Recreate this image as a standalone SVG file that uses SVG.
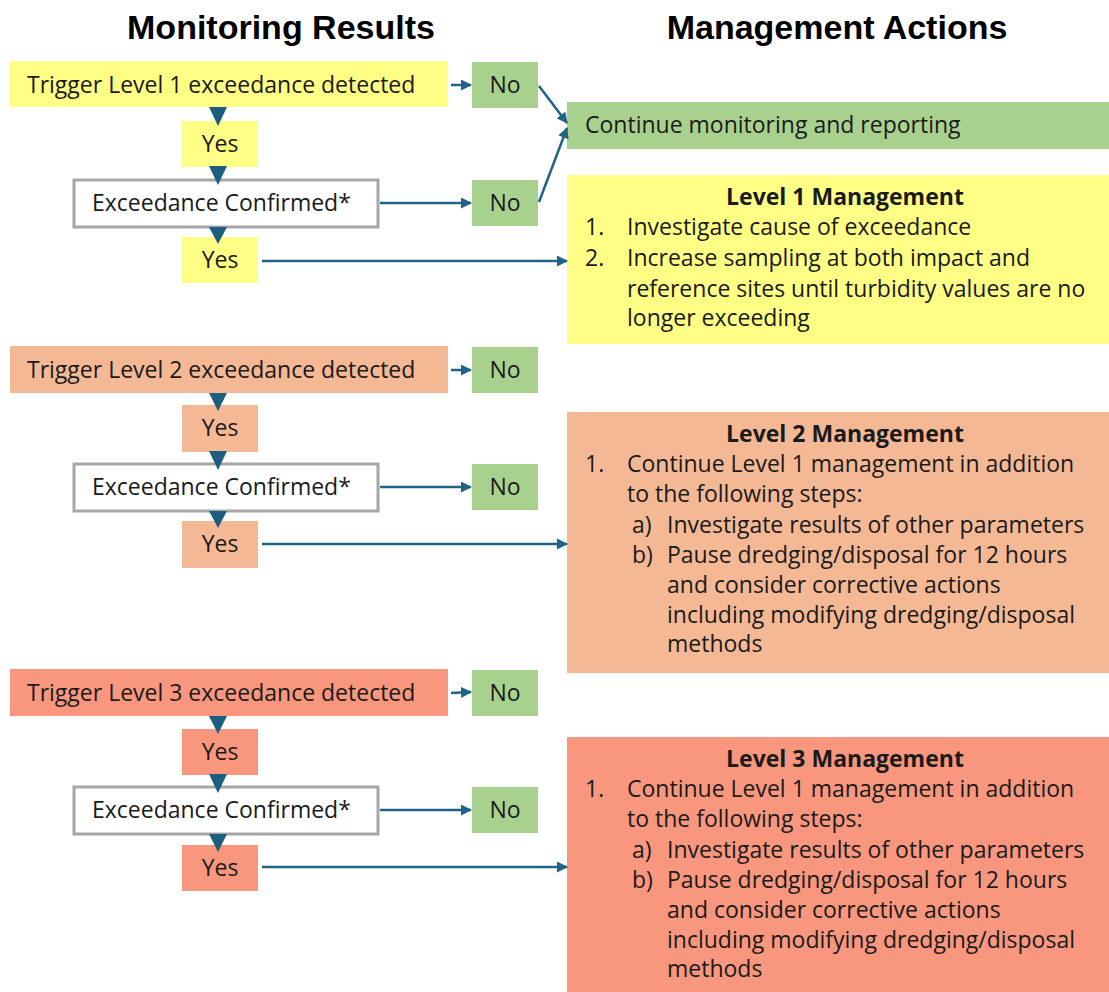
<svg xmlns="http://www.w3.org/2000/svg" width="1109" height="992" viewBox="0 0 1109 992">
<defs>
<marker id="ah" markerWidth="11" markerHeight="11" refX="10" refY="5.5" orient="auto" markerUnits="userSpaceOnUse">
<path d="M0,0 L11,5.5 L0,11 Z" fill="#1F6487"/>
</marker>
<style>
.t{font-family:"Open Sans","Liberation Sans",sans-serif;font-size:23px;fill:#1a1a1a}
.c{text-anchor:middle}
.b{font-weight:bold}
.h{font-family:"Liberation Sans",Arial,sans-serif;font-size:34px;font-weight:bold;fill:#000;text-anchor:middle}
.y{fill:#FFFF85}
.g{fill:#A9D18E}
.o{fill:#F4B894}
.r{fill:#F8977D}
.w{fill:#fff;stroke:#A6A6A6;stroke-width:3}
.ln{stroke:#1F6487;stroke-width:2.5;fill:none;marker-end:url(#ah)}
.tri{fill:#1B5E7E}
</style>
</defs>
<rect width="1109" height="992" fill="#fff"/>

<g id="titles">
<text class="h" x="281" y="39">Monitoring Results</text>
<text class="h" x="837" y="39">Management Actions</text>
</g>

<!-- Level 1 -->
<g id="trigger1"><rect class="y" x="10" y="61" width="438" height="46"/><text class="t" x="27" y="93">Trigger Level 1 exceedance detected</text></g>
<g id="no1a"><rect class="g" x="472" y="62" width="66" height="46"/><text class="t c" x="505" y="93">No</text></g>
<g id="yes1a"><rect class="y" x="182" y="121" width="76" height="46"/><text class="t c" x="220" y="152">Yes</text></g>
<g id="conf1"><rect class="w" x="74" y="180" width="304" height="47"/><text class="t" x="92" y="211">Exceedance Confirmed*</text></g>
<g id="no1b"><rect class="g" x="472" y="180" width="66" height="46"/><text class="t c" x="505" y="211">No</text></g>
<g id="yes1b"><rect class="y" x="182" y="237" width="76" height="46"/><text class="t c" x="220" y="268">Yes</text></g>

<!-- Level 2 -->
<g id="trigger2"><rect class="o" x="10" y="346" width="438" height="47"/><text class="t" x="27" y="378">Trigger Level 2 exceedance detected</text></g>
<g id="no2a"><rect class="g" x="472" y="347" width="66" height="46"/><text class="t c" x="505" y="378">No</text></g>
<g id="yes2a"><rect class="o" x="182" y="405" width="76" height="47"/><text class="t c" x="220" y="436">Yes</text></g>
<g id="conf2"><rect class="w" x="74" y="464" width="304" height="47"/><text class="t" x="92" y="495">Exceedance Confirmed*</text></g>
<g id="no2b"><rect class="g" x="472" y="464" width="66" height="46"/><text class="t c" x="505" y="495">No</text></g>
<g id="yes2b"><rect class="o" x="182" y="521" width="76" height="47"/><text class="t c" x="220" y="552">Yes</text></g>

<!-- Level 3 -->
<g id="trigger3"><rect class="r" x="10" y="669" width="438" height="47"/><text class="t" x="27" y="701">Trigger Level 3 exceedance detected</text></g>
<g id="no3a"><rect class="g" x="472" y="670" width="66" height="46"/><text class="t c" x="505" y="701">No</text></g>
<g id="yes3a"><rect class="r" x="182" y="729" width="76" height="46"/><text class="t c" x="220" y="760">Yes</text></g>
<g id="conf3"><rect class="w" x="74" y="787" width="304" height="47"/><text class="t" x="92" y="818">Exceedance Confirmed*</text></g>
<g id="no3b"><rect class="g" x="472" y="787" width="66" height="46"/><text class="t c" x="505" y="818">No</text></g>
<g id="yes3b"><rect class="r" x="182" y="845" width="76" height="46"/><text class="t c" x="220" y="876">Yes</text></g>

<!-- Management actions -->
<g id="continue"><rect class="g" x="567" y="102" width="542" height="47"/><text class="t" x="585" y="133">Continue monitoring and reporting</text></g>

<g id="mgmt1"><rect class="y" x="567" y="175" width="542" height="169"/>
<text class="t b c" x="845" y="205">Level 1 Management</text>
<text class="t" x="585" y="235">1.</text><text class="t" x="627" y="235">Investigate cause of exceedance</text>
<text class="t" x="585" y="266">2.</text><text class="t" x="627" y="266">Increase sampling at both impact and</text>
<text class="t" x="627" y="297">reference sites until turbidity values are no</text>
<text class="t" x="627" y="326">longer exceeding</text>
</g>

<g id="mgmt2"><rect class="o" x="567" y="412" width="542" height="261"/>
<text class="t b c" x="845" y="442">Level 2 Management</text>
<text class="t" x="585" y="472">1.</text><text class="t" x="627" y="472">Continue Level 1 management in addition</text>
<text class="t" x="627" y="502">to the following steps:</text>
<text class="t" x="632" y="533">a)</text><text class="t" x="667" y="533">Investigate results of other parameters</text>
<text class="t" x="632" y="563">b)</text><text class="t" x="667" y="563">Pause dredging/disposal for 12 hours</text>
<text class="t" x="667" y="593">and consider corrective actions</text>
<text class="t" x="667" y="623">including modifying dredging/disposal</text>
<text class="t" x="667" y="652">methods</text>
</g>

<g id="mgmt3"><rect class="r" x="567" y="737" width="542" height="255"/>
<text class="t b c" x="845" y="767">Level 3 Management</text>
<text class="t" x="585" y="797">1.</text><text class="t" x="627" y="797">Continue Level 1 management in addition</text>
<text class="t" x="627" y="827">to the following steps:</text>
<text class="t" x="632" y="858">a)</text><text class="t" x="667" y="858">Investigate results of other parameters</text>
<text class="t" x="632" y="888">b)</text><text class="t" x="667" y="888">Pause dredging/disposal for 12 hours</text>
<text class="t" x="667" y="918">and consider corrective actions</text>
<text class="t" x="667" y="948">including modifying dredging/disposal</text>
<text class="t" x="667" y="977">methods</text>
</g>

<g id="connectors">
<line class="ln" x1="451" y1="85" x2="471" y2="85"/>
<line class="ln" x1="380" y1="203" x2="471" y2="203"/>
<line class="ln" x1="262" y1="261" x2="567" y2="261"/>
<line class="ln" x1="539" y1="86" x2="567" y2="123"/>
<line class="ln" x1="539" y1="202" x2="567" y2="128"/>
<line class="ln" x1="451" y1="370" x2="471" y2="370"/>
<line class="ln" x1="380" y1="487" x2="471" y2="487"/>
<line class="ln" x1="262" y1="544" x2="567" y2="544"/>
<line class="ln" x1="451" y1="693" x2="471" y2="692"/>
<line class="ln" x1="380" y1="810" x2="471" y2="810"/>
<line class="ln" x1="262" y1="867" x2="567" y2="867"/>
<polygon class="tri" points="209,107 227,107 218,126"/>
<polygon class="tri" points="209,166 227,166 218,185"/>
<polygon class="tri" points="209,227 227,227 218,244"/>
<polygon class="tri" points="209,393 227,393 218,411"/>
<polygon class="tri" points="209,451 227,451 218,470"/>
<polygon class="tri" points="209,511 227,511 218,528"/>
<polygon class="tri" points="209,716 227,716 218,734"/>
<polygon class="tri" points="209,774 227,774 218,793"/>
<polygon class="tri" points="209,834 227,834 218,852"/>
</g>
</svg>
